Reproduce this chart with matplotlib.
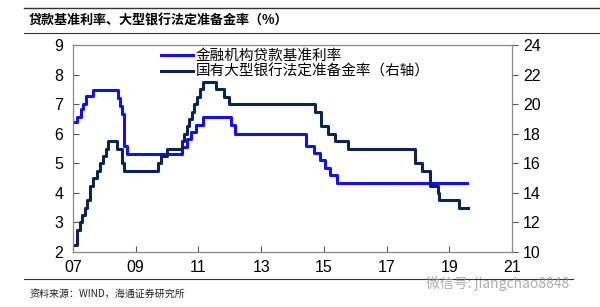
import matplotlib.pyplot as plt

plt.rcParams['font.family'] = ['Liberation Sans', 'Noto Sans CJK SC', 'DejaVu Sans']

# step change points (decimal year on the chart's axis)
loan_x = [2007.00, 2007.13, 2007.25, 2007.33, 2007.42, 2007.63, 2008.43, 2008.50,
          2008.57, 2008.64, 2008.71, 2010.48, 2010.62, 2010.75, 2010.92, 2011.13,
          2012.04, 2012.17, 2014.44, 2014.67, 2014.89, 2015.04, 2015.20, 2015.43,
          2019.57]
loan_rate = [6.39, 6.57, 6.84, 7.02, 7.29, 7.47, 7.20, 6.93,
             6.66, 5.58, 5.31, 5.56, 5.81, 6.06, 6.31, 6.56,
             6.31, 6.00, 5.60, 5.35, 5.10, 4.85, 4.60, 4.35,
             4.35]

rrr_x = [2007.00, 2007.13, 2007.22, 2007.30, 2007.38, 2007.46, 2007.55, 2007.63,
         2007.78, 2007.87, 2007.95, 2008.05, 2008.12, 2008.39, 2008.55, 2008.62,
         2009.70, 2009.82, 2010.00, 2010.48, 2010.55, 2010.62, 2010.70, 2010.78,
         2010.86, 2010.95, 2011.05, 2011.15, 2011.56, 2011.82, 2011.98, 2014.72,
         2014.92, 2015.14, 2015.36, 2015.77, 2017.90, 2018.12, 2018.40, 2018.63,
         2018.68, 2019.32, 2019.60]
rrr = [10.5, 11.5, 12.0, 12.5, 13.0, 13.5, 14.5, 15.0,
       15.5, 16.0, 16.5, 17.0, 17.5, 17.0, 16.0, 15.5,
       16.0, 16.5, 17.0, 17.5, 18.0, 18.5, 19.0, 19.5,
       20.0, 20.5, 21.0, 21.5, 21.0, 20.5, 20.0, 19.5,
       18.5, 18.0, 17.5, 17.0, 16.0, 15.5, 14.5, 14.0,
       13.5, 13.0, 13.0]

year_ticks = [2007, 2009, 2011, 2013, 2015, 2017, 2019, 2021]
year_labels = ['07', '09', '11', '13', '15', '17', '19', '21']

fig = plt.figure(figsize=(6, 3.07), dpi=100)
ax = fig.add_axes([0.1217, 0.179, 0.7316, 0.674])
ax2 = ax.twinx()

l1, = ax.step(loan_x, loan_rate, where='post', color='#1010f0', lw=2.2)
l2, = ax2.step(rrr_x, rrr, where='post', color='#0c2452', lw=2.2)

ax.set_xlim(2007, 2021)
ax.set_ylim(2, 9)
ax2.set_ylim(10, 24)
ax.set_xticks(year_ticks)
ax.set_xticklabels(year_labels)
ax.set_yticks(range(2, 10))
ax2.set_yticks(range(10, 25, 2))

for a in (ax, ax2):
    for s in a.spines.values():
        s.set_color('#888888')
        s.set_linewidth(0.8)
ax.spines['left'].set_color('#555555')
ax.spines['bottom'].set_color('#555555')
ax.tick_params(axis='y', direction='in', length=4, labelsize=11.5, color='#555555', pad=7)
ax.tick_params(axis='x', direction='in', length=4, labelsize=11.5, color='#555555', pad=6)
ax2.tick_params(axis='y', direction='out', length=4, labelsize=11.5, color='#555555', pad=4)

leg = ax.legend([l1, l2], ['金融机构贷款基准利率', '国有大型银行法定准备金率（右轴）'],
                loc='upper left', bbox_to_anchor=(0.17, 1.045), frameon=False,
                handlelength=2.2, handletextpad=0.2, labelspacing=0.1,
                prop={'family': ['Noto Sans CJK SC'], 'size': 10.5})

# header / footer rules and text
fig.add_artist(plt.Line2D([0.04, 1.0], [0.973, 0.973], color='#333333', lw=1.0))
fig.add_artist(plt.Line2D([0.04, 1.0], [0.892, 0.892], color='#333333', lw=0.8))
fig.add_artist(plt.Line2D([0.04, 0.955], [0.091, 0.091], color='#333333', lw=0.8))
fig.text(0.048, 0.933, '贷款基准利率、大型银行法定准备金率（%）', fontsize=9.4,
         fontweight='bold', va='center', family=['Noto Sans CJK SC'])
fig.text(0.05, 0.042, '资料来源：WIND，海通证券研究所', fontsize=7.2, va='center',
         family=['Noto Sans CJK SC'], color='#222222')
fig.text(0.71, 0.078, '微信号: jiangchao8848', fontsize=10, va='center',
         family=['Noto Sans CJK SC'], color='#999999', alpha=0.8)

fig.savefig('out.png', dpi=100)
